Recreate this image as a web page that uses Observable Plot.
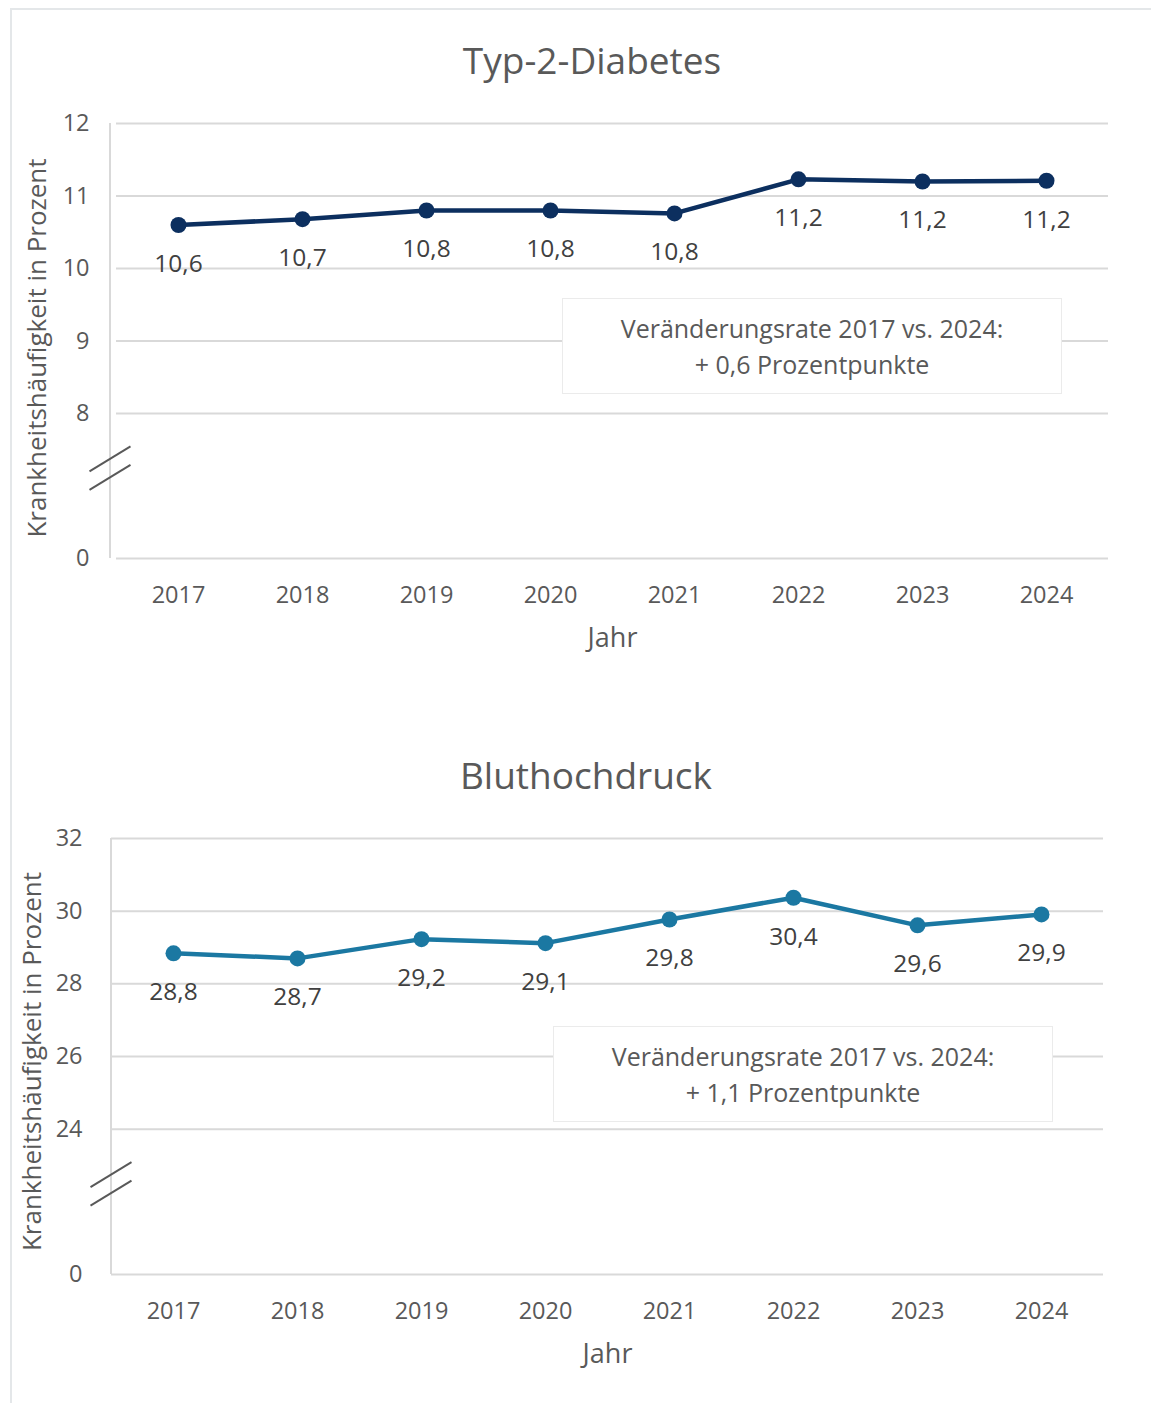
<!DOCTYPE html>
<html><head><meta charset="utf-8">
<script src="https://cdn.jsdelivr.net/npm/d3@7"></script>
<script src="https://cdn.jsdelivr.net/npm/@observablehq/plot@0.6"></script>
<style>
html,body{margin:0;padding:0;background:#fff;}
#page{position:relative;width:1151px;height:1403px;overflow:hidden;font-family:"Open Sans",sans-serif;color:#595959;}
#frame{position:absolute;left:10px;top:8px;width:1160px;height:1420px;border-top:2px solid #e4e7e9;border-left:2px solid #e4e7e9;}
.chart{position:absolute;left:0;}
.title{position:absolute;text-align:center;font-size:37px;line-height:40px;color:#595959;white-space:nowrap;}
.note{position:absolute;box-sizing:border-box;background:#fff;border:1px solid #ebebeb;text-align:center;font-size:25px;line-height:36px;padding-top:11px;color:#595959;white-space:nowrap;}
</style></head>
<body><div id="page"><div id="frame"></div></div>
<script>
const years = [2017, 2018, 2019, 2020, 2021, 2022, 2023, 2024];
const diabetes = [10.6, 10.68, 10.8, 10.8, 10.76, 11.23, 11.2, 11.21];
const bluthochdruck = [28.84, 28.70, 29.23, 29.12, 29.77, 30.37, 29.61, 29.91];
const diabetesTicks = [8, 9, 10, 11, 12];
const bluthochdruckTicks = [24, 26, 28, 30, 32];
const titles = ["Typ-2-Diabetes", "Bluthochdruck"];
const notes = [["Veränderungsrate 2017 vs. 2024:", "+ 0,6 Prozentpunkte"], ["Veränderungsrate 2017 vs. 2024:", "+ 1,1 Prozentpunkte"]];
const yLabel = "Krankheitshäufigkeit in Prozent";
const xLabel = "Jahr";
const colors = ["#0c2f5f", "#1b78a2"];

const fmt = v => v.toFixed(1).replace(".", ",");
const page = document.getElementById("page");

function makeChart(o) {
  const data = years.map((year, i) => ({year, value: o.values[i]}));
  const floor = o.floor;
  const yTicks = [floor, ...o.ticks];
  const chart = Plot.plot({
    width: 1151, height: 680,
    marginTop: o.marginTop, marginBottom: o.marginBottom,
    marginLeft: o.marginLeft, marginRight: o.marginRight,
    x: {type: "point", domain: years, padding: 0.5, align: 0.5},
    y: {domain: [floor, d3.max(o.ticks)]},
    style: {fontFamily: "Open Sans", color: "#595959", background: "transparent", overflow: "visible"},
    marks: [
      Plot.ruleY(yTicks, {stroke: "#d9d9d9", strokeWidth: 2}),
      Plot.axisY({ticks: yTicks, tickFormat: d => d === floor ? "0" : String(d), tickSize: 0, tickPadding: o.yPad, fontSize: 23.5, label: null}),
      Plot.axisX({tickSize: 0, tickPadding: 28, fontSize: 23.5, label: null, tickFormat: d => String(d)}),
      Plot.line(data, {x: "year", y: "value", stroke: o.color, strokeWidth: 4.5}),
      Plot.dot(data, {x: "year", y: "value", r: 8, fill: o.color}),
      Plot.text(data, {x: "year", y: "value", text: d => fmt(d.value), dy: 39, fontSize: 24.5, fill: "#404040"}),
      Plot.text([xLabel], {frameAnchor: "bottom", dy: 88, fontSize: 27, fill: "#595959"}),
      Plot.text([yLabel], {frameAnchor: "left", textAnchor: "middle", rotate: -90, dx: o.yLabelDx, dy: o.yLabelDy, fontSize: 26, fill: "#595959"})
    ]
  });
  chart.classList.add("chart");
  chart.style.top = o.top + "px";
  page.appendChild(chart);
  // axis line and break marks derived from the scales
  const ys = chart.scale("y");
  const svg = d3.select(chart);
  const x0 = o.marginLeft - o.axisGap;
  const yTop = ys.apply(d3.max(o.ticks)), yBot = ys.apply(floor);
  svg.append("line").attr("x1", x0).attr("x2", x0).attr("y1", yTop).attr("y2", yBot)
    .attr("stroke", "#d9d9d9").attr("stroke-width", 2);
  const yLow = ys.apply(d3.min(o.ticks));
  const yb = yLow + 0.38 * (yBot - yLow);
  [-9.25, 9.25].forEach(off => {
    svg.append("line").attr("x1", x0 - 20.5).attr("y1", yb + off + 12.5)
      .attr("x2", x0 + 20.5).attr("y2", yb + off - 12.5)
      .attr("stroke", "#595959").attr("stroke-width", 2);
  });
  // title
  const t = document.createElement("div");
  t.className = "title"; t.textContent = o.title;
  t.style.left = (o.titleX - 300) + "px"; t.style.width = "600px"; t.style.top = (o.titleY - 20) + "px";
  page.appendChild(t);
  // note box
  const n = document.createElement("div");
  n.className = "note"; n.innerHTML = o.note.join("<br>");
  Object.assign(n.style, {left: o.noteX + "px", top: o.noteY + "px", width: "500px", height: "96px"});
  page.appendChild(n);
}

makeChart({values: diabetes, ticks: diabetesTicks, floor: 6, color: colors[0], top: 0,
  marginTop: 123, marginBottom: 122, marginLeft: 116, marginRight: 43, axisGap: 6, yPad: 27, yLabelDx: -79, yLabelDy: 7,
  title: titles[0], titleX: 592, titleY: 60, note: notes[0], noteX: 562, noteY: 298});
makeChart({values: bluthochdruck, ticks: bluthochdruckTicks, floor: 20, color: colors[1], top: 700,
  marginTop: 138, marginBottom: 106, marginLeft: 111, marginRight: 48, axisGap: 0, yPad: 29, yLabelDx: -79, yLabelDy: 5,
  title: titles[1], titleX: 586, titleY: 775, note: notes[1], noteX: 553, noteY: 1026});
</script></body></html>
